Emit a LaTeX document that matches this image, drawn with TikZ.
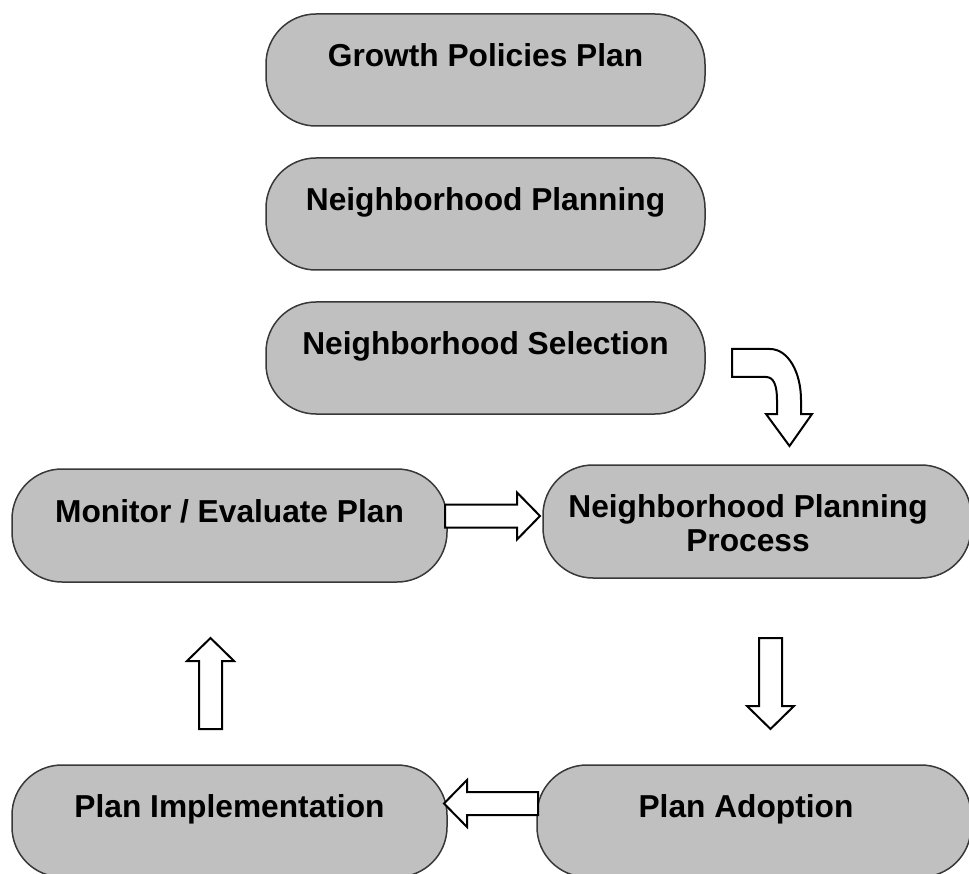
\documentclass[tikz,border=0pt]{standalone}
\usepackage{fontspec}
\setmainfont{Liberation Sans}
\usetikzlibrary{calc}

\definecolor{boxfill}{HTML}{C0C0C0}
\definecolor{boxline}{HTML}{383838}

\tikzset{
  stadium/.style={rectangle, rounded corners=50pt, fill=boxfill, draw=boxline,
    line width=1.5pt, inner sep=0pt, minimum height=112pt},
  lbl/.style={font=\fontsize{31.7}{34}\selectfont\bfseries, inner sep=0pt,
    align=center, text=black},
  blockarrow/.style={draw=black, fill=white, line width=2pt, line join=miter},
}

% straight block arrow from tail #1 to tip #2
\newcommand{\blockarr}[2]{%
  \path ($(#2)!23pt!(#1)$) coordinate (bh);
  \draw[blockarrow]
    ($(#1)!11.5pt!90:(#2)$) -- ($(bh)!11.5pt!90:(#2)$) --
    ($(bh)!23.5pt!90:(#2)$) -- (#2) -- ($(bh)!23.5pt!-90:(#2)$) --
    ($(bh)!11.5pt!-90:(#2)$) -- ($(#1)!11.5pt!-90:(#2)$) -- cycle;}

\begin{document}
\begin{tikzpicture}[x=1pt, y=-1pt]
  \useasboundingbox (0,0) rectangle (969,874);
  \clip (0,0) rectangle (969,874);

  % boxes
  \node[stadium, minimum width=439pt] (gpp) at (485.5,70) {};
  \node[stadium, minimum width=439pt] (np)  at (485.5,214) {};
  \node[stadium, minimum width=439pt] (ns)  at (485.5,358) {};
  \node[stadium, minimum width=435pt, minimum height=113pt] (mon) at (229.5,525.5) {};
  \node[stadium, minimum width=428pt, minimum height=113pt] (npp) at (757,521.5) {};
  \node[stadium, minimum width=435pt] (pi)  at (229.5,821) {};
  \node[stadium, minimum width=434pt] (pa)  at (754,821) {};

  % labels
  \node[lbl, anchor=base] (gpp-t) at (485.5,66.5)  {Growth Policies Plan};
  \node[lbl, anchor=base] (np-t)  at (485.5,210.5) {Neighborhood Planning};
  \node[lbl, anchor=base] (ns-t)  at (485.5,354.5) {Neighborhood Selection};
  \node[lbl, anchor=base] (mon-t) at (229.5,522)   {Monitor / Evaluate Plan};
  \node[lbl] (npp-t) at (748,523) {Neighborhood Planning\\Process};
  \node[lbl, anchor=base] (pi-t)  at (229.5,817.5) {Plan Implementation};
  \node[lbl, anchor=base] (pa-t)  at (746,817.5)   {Plan Adoption};

  % arrow end points
  \coordinate (mon-out) at (445,516);
  \coordinate (npp-in)  at (540,516);
  \coordinate (npp-out) at (770.5,638);
  \coordinate (pa-in)   at (770.5,729);
  \coordinate (pa-out)  at (538,803.5);
  \coordinate (pi-in)   at (444,803.5);
  \coordinate (pi-out)  at (210.5,729);
  \coordinate (mon-in)  at (210.5,638);

  \blockarr{mon-out}{npp-in}
  \blockarr{npp-out}{pa-in}
  \blockarr{pa-out}{pi-in}
  \blockarr{pi-out}{mon-in}

  % bent arrow from the selection box down into the process box
  \draw[blockarrow]
    (732,349) -- (770,349)
    .. controls (788,349) and (801,372) .. (801,400)
    -- (801,414) -- (812,414) -- (789.5,446) -- (766,414) -- (777,414) -- (777,400)
    .. controls (777,386) and (774,377) .. (766,377)
    -- (732,377) -- cycle;
\end{tikzpicture}
\end{document}
